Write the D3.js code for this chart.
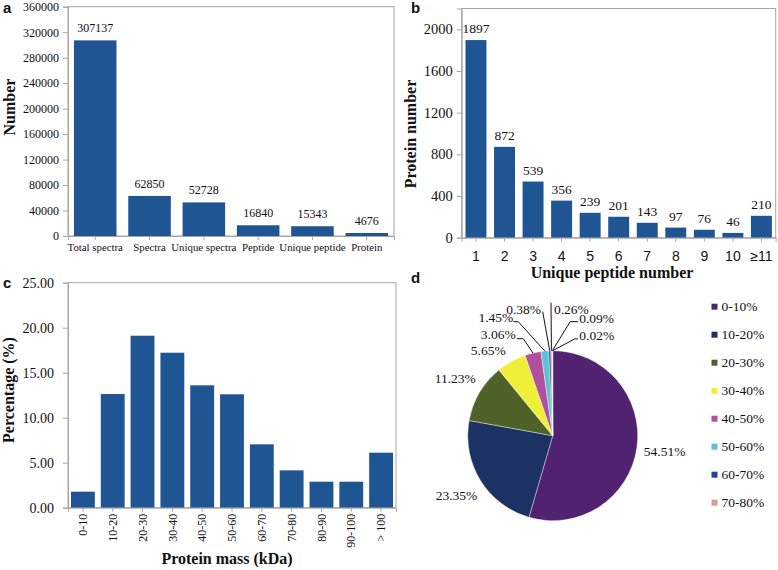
<!DOCTYPE html>
<html><head><meta charset="utf-8">
<script src="https://cdn.jsdelivr.net/npm/d3@7"></script>
<style>
body{margin:0;background:#fff;}
svg{display:block;}
</style></head><body>
<svg id="chart" width="778" height="570"></svg>
<script>
// ---------- DATA ----------
const aCategories = ["Total spectra","Spectra","Unique spectra","Peptide","Unique peptide","Protein"];
const aValues = [307137, 62850, 52728, 16840, 15343, 4676];
const aTicks = [0,40000,80000,120000,160000,200000,240000,280000,320000,360000];

const bCategories = ["1","2","3","4","5","6","7","8","9","10","≥11"];
const bValues = [1897, 872, 539, 356, 239, 201, 143, 97, 76, 46, 210];
const bTicks = [0,400,800,1200,1600,2000];

const cCategories = ["0-10","10-20","20-30","30-40","40-50","50-60","60-70","70-80","80-90","90-100","> 100"];
const cValues = [1.78, 12.63, 19.11, 17.22, 13.60, 12.60, 7.04, 4.15, 2.89, 2.89, 6.11];
const cTicks = [0,5,10,15,20,25];

const dCategories = ["0-10%","10-20%","20-30%","30-40%","40-50%","50-60%","60-70%","70-80%","80-90%","90-100%"];
const dValues = [54.51, 23.35, 11.23, 5.65, 3.06, 1.45, 0.38, 0.26, 0.09, 0.02];
const dLabels = ["54.51%","23.35%","11.23%","5.65%","3.06%","1.45%","0.38%","0.26%","0.09%","0.02%"];
const dLegendCount = 8;

// ---------- STYLE ----------
const BAR = "#1F5592";
const AXIS = "#A6A6A6";
const dColors = ["#512270","#1C3263","#4F6228","#EFEF3A","#B0509E","#5CC3D2","#2143A0","#D49A9A","#9BBB59","#8064A2"];
const SERIF = '"Liberation Serif","Times New Roman",serif';
const SANS = '"Liberation Sans",Arial,sans-serif';

const svg = d3.select("#chart");

function panelLabel(t, x, y){
  svg.append("text").attr("x",x).attr("y",y).text(t)
    .attr("font-family",SANS).attr("font-weight","bold").attr("font-size",15).attr("fill","#111");
}

function barPanel(opt){
  const g = svg.append("g");
  const x = d3.scaleBand().domain(opt.cats).range([opt.x0,opt.x1])
    .paddingInner(opt.pi).paddingOuter(opt.po);
  const y = d3.scaleLinear().domain(opt.domain).range([opt.y0,opt.y1]);
  g.append("rect").attr("x",opt.x0).attr("y",opt.y1).attr("width",opt.x1-opt.x0).attr("height",opt.y0-opt.y1)
    .attr("fill","none").attr("stroke",AXIS).attr("stroke-width",1);
  g.selectAll("rect.bar").data(opt.vals).join("rect").attr("class","bar")
    .attr("x",(d,i)=>x(opt.cats[i])).attr("width",x.bandwidth())
    .attr("y",d=>y(d)).attr("height",d=>opt.y0-y(d)).attr("fill",BAR);
  const ya = d3.axisLeft(y).tickValues(opt.ticks).tickSize(5).tickPadding(opt.ytp||4).tickFormat(opt.yfmt);
  const yg = g.append("g").attr("transform",`translate(${opt.x0},0)`).call(ya);
  yg.select(".domain").attr("stroke",AXIS);
  yg.selectAll(".tick line").attr("stroke",AXIS);
  yg.selectAll("text").attr("font-family",SERIF).attr("font-size",opt.yfs).attr("fill","#111");
  const xa = d3.axisBottom(x).tickSize(4).tickPadding(opt.xtp||4);
  const xg = g.append("g").attr("transform",`translate(0,${opt.y0})`).call(xa);
  xg.select(".domain").attr("stroke",AXIS);
  xg.selectAll(".tick line").attr("stroke",AXIS);
  xg.selectAll("text").attr("font-family",opt.xfont).attr("font-size",opt.xfs).attr("fill","#111");
  if(opt.rotate){
    xg.selectAll("text").attr("transform","rotate(-90)").attr("text-anchor","end")
      .attr("x",-6).attr("y",0).attr("dy","0.35em");
  }
  if(opt.valueLabels){
    g.selectAll("text.val").data(opt.vals).join("text").attr("class","val")
      .attr("x",(d,i)=>x(opt.cats[i])+x.bandwidth()/2).attr("y",d=>y(d)-opt.vgap)
      .attr("text-anchor","middle").attr("font-family",SERIF).attr("font-size",opt.vfs).attr("fill","#111")
      .text(d=>d);
  }
  if(opt.ytitle){
    g.append("text").attr("transform",`translate(${opt.ytx},${opt.yty}) rotate(-90)`)
      .attr("text-anchor","middle").attr("font-family",SERIF).attr("font-weight","bold")
      .attr("font-size",opt.tfs).attr("fill","#111").text(opt.ytitle);
  }
  if(opt.xtitle){
    g.append("text").attr("x",opt.xtx).attr("y",opt.xty)
      .attr("text-anchor","middle").attr("font-family",SERIF).attr("font-weight","bold")
      .attr("font-size",opt.tfs).attr("fill","#111").text(opt.xtitle);
  }
}

// Panel a
barPanel({cats:aCategories, vals:aValues, ticks:aTicks, domain:[0,360000],
  x0:68, x1:394, y0:236, y1:6.7, pi:0.217, po:0.11, yfs:12, yfmt:d3.format("d"),
  xfont:SERIF, xfs:10.8, xtp:3, valueLabels:true, vgap:8, vfs:12,
  ytitle:"Number", ytx:15, yty:107, tfs:16});
panelLabel("a",3,13);

// Panel b
barPanel({cats:bCategories, vals:bValues, ticks:bTicks, domain:[0,2200],
  x0:461.7, x1:775.7, y0:237.7, y1:8.5, pi:0.266, po:0.133, yfs:14.5, yfmt:d3.format("d"),
  xfont:SANS, xfs:14, xtp:9, valueLabels:true, vgap:7, vfs:13.5,
  ytitle:"Protein number", ytx:416, yty:134, xtitle:"Unique peptide number", xtx:612, xty:278, tfs:16});
panelLabel("b",411,13);

// Panel c
barPanel({cats:cCategories, vals:cValues, ticks:cTicks, domain:[0,25],
  x0:68, x1:396, y0:507.7, y1:282.7, pi:0.2, po:0.1, yfs:14, yfmt:d3.format(".2f"), ytp:9,
  xfont:SERIF, xfs:12, rotate:true, valueLabels:false,
  ytitle:"Percentage (%)", ytx:13.5, yty:390, xtitle:"Protein mass (kDa)", xtx:227, xty:564, tfs:16});
panelLabel("c",3,288);

// Panel d (pie)
panelLabel("d",411,283);
const cx = 552.7, cy = 435.7, R = 85;
const pie = d3.pie().sort(null).value(d=>d);
const arcs = pie(dValues);
const arc = d3.arc().innerRadius(0).outerRadius(R);
const gd = svg.append("g").attr("transform",`translate(${cx},${cy})`);
gd.selectAll("path").data(arcs).join("path").attr("d",arc)
  .attr("fill",(d,i)=>dColors[i]).attr("stroke","#fff").attr("stroke-width",0.4);

const labelArc = d3.arc().innerRadius(R*1.33).outerRadius(R*1.33);
const smallLayout = {
  3:{tx:-47, ty:-81.2, anchor:"end", lead:null},
  4:{tx:-37, ty:-96.7, anchor:"end", lead:[[-36,-97],[-29.4,-97]]},
  5:{tx:-39.4, ty:-113.7, anchor:"end", lead:[[-39.4,-114],[-34.4,-114]]},
  6:{tx:-11.7, ty:-121.7, anchor:"end", lead:[[-10,-124]]},
  7:{tx:1.2, ty:-121.7, anchor:"start", lead:[[-1.7,-133]]},
  8:{tx:26.5, ty:-113.2, anchor:"start", lead:[[25.5,-114],[17.5,-114]]},
  9:{tx:26.6, ty:-96.2, anchor:"start", lead:[[25.5,-96.8],[22,-96.8]]}
};
arcs.forEach((a,i)=>{
  const L = smallLayout[i];
  const t = gd.append("text").attr("font-family",SERIF).attr("font-size",13.5).attr("fill","#111").text(dLabels[i]);
  if(!L){
    const c = labelArc.centroid(a);
    t.attr("x",c[0]).attr("y",c[1]).attr("dy","0.35em").attr("text-anchor","middle");
  } else {
    t.attr("x",L.tx).attr("y",L.ty).attr("text-anchor",L.anchor);
    if(L.lead){
      const mid = (a.startAngle+a.endAngle)/2;
      const end = [Math.sin(mid)*R, -Math.cos(mid)*R];
      const pts = L.lead.concat([end]);
      gd.append("path").attr("d",d3.line()(pts)).attr("fill","none").attr("stroke","#111").attr("stroke-width",1);
    }
  }
});

const lg = svg.append("g");
dCategories.slice(0,dLegendCount).forEach((c,i)=>{
  const yy = 306.7 + i*28;
  lg.append("rect").attr("x",711.5).attr("y",yy-3).attr("width",6).attr("height",6).attr("fill",dColors[i]);
  lg.append("text").attr("x",721.5).attr("y",yy).attr("dy","0.35em")
    .attr("font-family",SERIF).attr("font-size",13.5).attr("fill","#111").text(c);
});
</script>
</body></html>
